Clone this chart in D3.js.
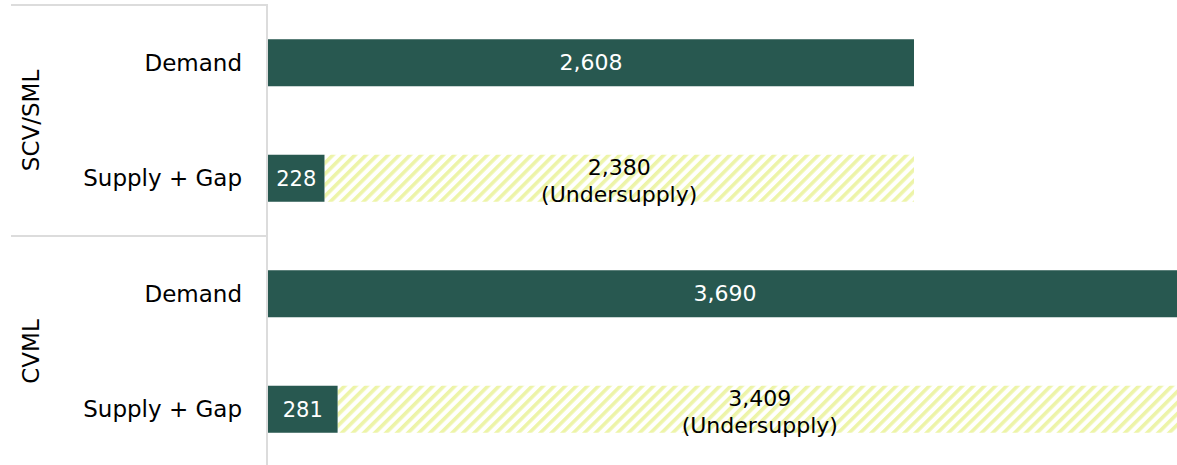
<!DOCTYPE html>
<html>
<head>
<meta charset="utf-8">
<script src="https://cdn.jsdelivr.net/npm/d3@7"></script>
<style>
  body { margin: 0; background: #fff; }
  text { font-family: "DejaVu Sans", "Open Sans", sans-serif; }
</style>
</head>
<body>
<div id="chart"></div>
<script>
const width = 1177
const height = 465

// Data
const groups = ["SCV/SML", "CVML"]
const rowLabels = ["Demand", "Supply + Gap"]
const demand = [2608, 3690]
const supply = [228, 281]
const gap = [2380, 3409]

const barColor = "#285850"
const hatchColor = "#edf4a8"
const lineColor = "#dcdcdc"

const plotLeft = 268
const plotTop = 5
const plotBottom = 467

// One row per bar, group by group
const rows = []
groups.forEach((g, i) => {
  rows.push({ id: `${g}-d`, group: g, label: rowLabels[0], kind: "demand", value: demand[i] })
  rows.push({ id: `${g}-s`, group: g, label: rowLabels[1], kind: "supply", supply: supply[i], gap: gap[i] })
})

const svg = d3.select("#chart")
              .append("svg")
                .attr("width", width)
                .attr("height", height)

// Hatch pattern for the gap part
svg.append("defs")
   .append("pattern")
     .attr("id", "hatch")
     .attr("patternUnits", "userSpaceOnUse")
     .attr("width", 7.8)
     .attr("height", 7.8)
     .attr("patternTransform", "rotate(45)")
   .append("rect")
     .attr("width", 3.6)
     .attr("height", 7.8)
     .attr("fill", hatchColor)

// Scales
const xScale = d3.scaleLinear()
                 .domain([0, 3690])
                 .range([plotLeft, plotLeft + 914])

const yScale = d3.scaleBand()
                 .domain(rows.map(d => d.id))
                 .range([plotTop, plotBottom])
                 .paddingInner(0.593)
                 .paddingOuter(0.2965)

const groupScale = d3.scaleBand()
                     .domain(groups)
                     .range([plotTop, plotBottom])

// Frame lines of the category axis
const frame = svg.append("g").attr("stroke", lineColor).attr("stroke-width", 2)
frame.append("line")
     .attr("x1", 11).attr("x2", plotLeft - 1)
     .attr("y1", plotTop).attr("y2", plotTop)
groups.slice(1).forEach(g => {
  frame.append("line")
       .attr("x1", 11).attr("x2", plotLeft - 1)
       .attr("y1", groupScale(g)).attr("y2", groupScale(g))
})
frame.append("line")
     .attr("x1", plotLeft - 1).attr("x2", plotLeft - 1)
     .attr("y1", plotTop - 1).attr("y2", height)

// Group labels (rotated)
svg.selectAll(".group-label")
   .data(groups)
   .enter()
   .append("text")
     .attr("class", "group-label")
     .attr("transform", d => `translate(39, ${groupScale(d) + groupScale.bandwidth() / 2}) rotate(-90)`)
     .attr("text-anchor", "middle")
     .attr("font-size", 23)
     .attr("fill", "#000")
     .text(d => d)

// Row labels
svg.selectAll(".row-label")
   .data(rows)
   .enter()
   .append("text")
     .attr("class", "row-label")
     .attr("x", 242)
     .attr("y", d => yScale(d.id) + yScale.bandwidth() / 2)
     .attr("dy", "0.35em")
     .attr("text-anchor", "end")
     .attr("font-size", 23)
     .attr("fill", "#000")
     .text(d => d.label)

const bars = svg.append("g")

// Demand bars
const demandRows = rows.filter(d => d.kind === "demand")
bars.selectAll(".demand")
    .data(demandRows)
    .enter()
    .append("rect")
      .attr("x", xScale(0))
      .attr("y", d => yScale(d.id))
      .attr("width", d => xScale(d.value) - xScale(0))
      .attr("height", yScale.bandwidth())
      .attr("fill", barColor)

bars.selectAll(".demand-label")
    .data(demandRows)
    .enter()
    .append("text")
      .attr("x", d => (xScale(0) + xScale(d.value)) / 2)
      .attr("y", d => yScale(d.id) + yScale.bandwidth() / 2)
      .attr("dy", "0.35em")
      .attr("text-anchor", "middle")
      .attr("font-size", 22)
      .attr("fill", "#fff")
      .text(d => d3.format(",")(d.value))

// Supply + gap bars
const supplyRows = rows.filter(d => d.kind === "supply")
bars.selectAll(".gap")
    .data(supplyRows)
    .enter()
    .append("rect")
      .attr("x", d => xScale(d.supply))
      .attr("y", d => yScale(d.id))
      .attr("width", d => xScale(d.supply + d.gap) - xScale(d.supply))
      .attr("height", yScale.bandwidth())
      .attr("fill", "url(#hatch)")

bars.selectAll(".supply")
    .data(supplyRows)
    .enter()
    .append("rect")
      .attr("x", xScale(0))
      .attr("y", d => yScale(d.id))
      .attr("width", d => xScale(d.supply) - xScale(0))
      .attr("height", yScale.bandwidth())
      .attr("fill", barColor)

bars.selectAll(".supply-label")
    .data(supplyRows)
    .enter()
    .append("text")
      .attr("x", d => (xScale(0) + xScale(d.supply)) / 2)
      .attr("y", d => yScale(d.id) + yScale.bandwidth() / 2)
      .attr("dy", "0.35em")
      .attr("text-anchor", "middle")
      .attr("font-size", 21)
      .attr("fill", "#fff")
      .text(d => d3.format(",")(d.supply))

// Two-line gap label: value, then "(Undersupply)"
const gapX = d => (xScale(d.supply) + xScale(d.supply + d.gap)) / 2
const gapY = d => yScale(d.id) + yScale.bandwidth() / 2

bars.selectAll(".gap-value")
    .data(supplyRows)
    .enter()
    .append("text")
      .attr("x", gapX)
      .attr("y", d => gapY(d) - 3)
      .attr("text-anchor", "middle")
      .attr("font-size", 22)
      .attr("fill", "#000")
      .text(d => d3.format(",")(d.gap))

bars.selectAll(".gap-note")
    .data(supplyRows)
    .enter()
    .append("text")
      .attr("x", gapX)
      .attr("y", d => gapY(d) + 24)
      .attr("text-anchor", "middle")
      .attr("font-size", 22)
      .attr("fill", "#000")
      .text("(Undersupply)")
</script>
</body>
</html>
